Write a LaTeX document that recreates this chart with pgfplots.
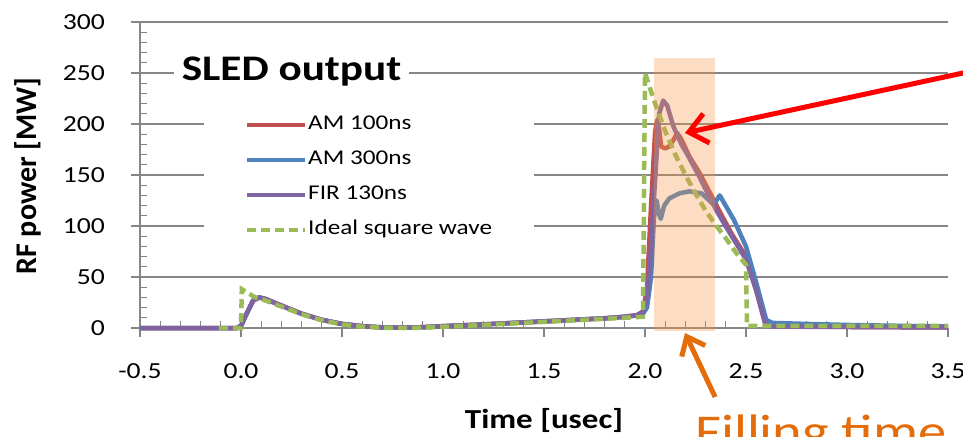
\documentclass[border=0pt]{standalone}
\usepackage{fontspec}
\setmainfont{Carlito}[FakeStretch=1.2]
\newfontfamily\plainfont{Carlito}
\usepackage{graphicx}
\usepackage{pgfplots}
\pgfplotsset{compat=1.18}
\usetikzlibrary{arrows.meta}

\definecolor{amred}{HTML}{C0504D}
\definecolor{amblue}{HTML}{4F81BD}
\definecolor{firpurple}{HTML}{8064A2}
\definecolor{idealgreen}{HTML}{9BBB59}
\definecolor{boxorange}{HTML}{F79646}
\definecolor{noteorange}{HTML}{E46C0A}
\definecolor{axisgray}{RGB}{134,134,134}

\begin{document}
\begin{tikzpicture}
\useasboundingbox (-140bp,-109bp) rectangle (823bp,328bp);
\clip (-140bp,-109bp) rectangle (823bp,328bp);
\begin{axis}[
  scale only axis,
  width=808bp, height=306bp,
  xmin=-0.5, xmax=3.5, ymin=0, ymax=300,
  clip=false,
  axis lines=left,
  axis line style={-, draw=axisgray, line width=1.3bp},
  xtick={-0.5,0,...,3.5},
  ytick={0,50,...,300},
  minor x tick num=4,
  minor y tick num=4,
  tick align=outside,
  major tick length=9bp,
  minor tick length=7bp,
  every tick/.style={draw=axisgray, line width=1.2bp},
  minor x tick style={yshift=7bp},
  minor y tick style={xshift=7bp},
  ymajorgrids,
  major grid style={draw=axisgray, line width=1.2bp},
  /pgf/number format/assume math mode=true,
  x tick label style={/pgf/number format/fixed, /pgf/number format/fixed zerofill,
    /pgf/number format/precision=1},
  ticklabel style={font=\fontsize{23bp}{27bp}\selectfont, inner sep=0pt},
  yticklabel style={xshift=-26bp},
  xticklabel style={yshift=-26bp},
  xlabel={\bfseries Time [usec]},
  xlabel style={at={(axis description cs:0.5,-0.3268)}, anchor=base,
    font=\fontsize{27.5bp}{30bp}\selectfont},
  ylabel={\plainfont\bfseries RF power [MW]},
  ylabel style={at={(axis description cs:-0.128,0.497)}, anchor=base,
    font=\fontsize{30bp}{34bp}\selectfont},
  legend style={at={(axis cs:-0.183,218)}, anchor=north west,
    fill=white, draw=none, inner xsep=41bp, inner ysep=8bp,
    font=\fontsize{21bp}{25bp}\selectfont, row sep=13bp,
    nodes={inner sep=1bp, text height=15bp, text depth=5bp}},
  legend cell align=left,
  legend image code/.code={\draw[#1, line width=4bp] (0bp,0bp) -- (58bp,0bp);},
]
\addplot[amred, line width=4.5bp, line join=round] coordinates {
(-0.5,0) (-0.02,0) (0.0,2) (0.03,15) (0.06,27) (0.09,30) (0.12,28.5) (0.2,22)
(0.3,14) (0.4,8) (0.5,4) (0.6,1.8) (0.7,0.6) (0.8,0.4) (0.9,0.8) (1.0,1.8)
(1.2,3.5) (1.4,5.5) (1.6,7.5) (1.8,9.5) (1.9,11) (1.96,12.5) (1.99,16)
(2.01,40) (2.03,120) (2.05,192) (2.06,204) (2.07,195) (2.08,178) (2.1,176)
(2.12,178) (2.14,184) (2.16,191) (2.18,185) (2.22,168) (2.27,152) (2.32,133)
(2.37,114) (2.43,92) (2.5,70) (2.55,38) (2.595,5) (2.62,2) (3.0,1) (3.5,0.5)
};
\addlegendentry{AM 100ns}
\addplot[amblue, line width=4.5bp, line join=round] coordinates {
(-0.5,0) (-0.02,0) (0.0,2) (0.03,15) (0.06,27) (0.09,30) (0.12,28.5) (0.2,22)
(0.3,14) (0.4,8) (0.5,4) (0.6,1.8) (0.7,0.6) (0.8,0.4) (0.9,0.8) (1.0,1.8)
(1.2,3.5) (1.4,5.5) (1.6,7.5) (1.8,9.5) (1.9,11) (1.96,12.5) (1.99,14)
(2.01,20) (2.03,50) (2.045,110) (2.058,125) (2.068,112) (2.078,107) (2.095,120)
(2.12,127) (2.17,132) (2.22,134) (2.28,132) (2.34,121) (2.37,130) (2.44,106)
(2.5,80) (2.55,45) (2.6,8) (2.63,5) (2.8,4) (3.0,3) (3.3,2) (3.5,1.5)
};
\addlegendentry{AM 300ns}
\addplot[firpurple, line width=4.5bp, line join=round] coordinates {
(-0.5,0) (-0.02,0) (0.0,2) (0.03,15) (0.06,27) (0.09,30) (0.12,28.5) (0.2,22)
(0.3,14) (0.4,8) (0.5,4) (0.6,1.8) (0.7,0.6) (0.8,0.4) (0.9,0.8) (1.0,1.8)
(1.2,3.5) (1.4,5.5) (1.6,7.5) (1.8,9.5) (1.9,11) (1.96,12.5) (1.99,16)
(2.01,30) (2.03,80) (2.05,145) (2.07,210) (2.09,223) (2.11,218) (2.14,198)
(2.18,180) (2.21,170) (2.27,148) (2.32,128) (2.36,113) (2.42,93) (2.47,77)
(2.5,67) (2.55,37) (2.595,4) (2.62,1.5) (2.8,1.2) (3.0,1) (3.5,0.5)
};
\addlegendentry{FIR 130ns}
\addplot[idealgreen, line width=4.5bp, dash pattern=on 9bp off 5bp] coordinates {
(-0.11,0) (0.0,0) (0.004,38) (0.07,30) (0.1,28.5) (0.2,21) (0.3,13.5)
(0.4,7.5) (0.5,3.5) (0.6,1.3) (0.7,0.3) (0.8,0) (0.9,0.3) (1.0,1.2)
(1.2,3) (1.4,5) (1.6,7) (1.8,9) (1.9,10) (1.99,11) (2.0,250) (2.05,220)
(2.1,193) (2.15,170) (2.2,150) (2.25,132) (2.3,115) (2.35,101) (2.4,88)
(2.45,74) (2.5,62) (2.505,2) (2.6,2) (3.0,2) (3.5,2)
};
\addlegendentry{Ideal square wave}

\fill[boxorange, opacity=0.33] (axis cs:2.045,-3) rectangle (axis cs:2.346,264.7);
\node[fill=white, inner xsep=8bp, inner ysep=2bp, anchor=base,
  font=\bfseries\fontsize{36bp}{40bp}\selectfont] at (axis cs:0.25,243) {SLED output};
\draw[red, line width=5bp, -{Straight Barb[length=18bp, width=30bp]}]
  (axis cs:3.757,257.8) -- (axis cs:2.198,191.2);
\draw[noteorange, line width=5bp, -{Straight Barb[length=16bp, width=26bp]}]
  (axis cs:2.347,-67.6) -- (axis cs:2.198,-4.9);
\node[anchor=base west, inner sep=0pt, text=noteorange,
  font=\fontsize{47bp}{50bp}\selectfont] at (axis cs:2.248,-117.6) {Filling time};
\end{axis}
\end{tikzpicture}
\end{document}
